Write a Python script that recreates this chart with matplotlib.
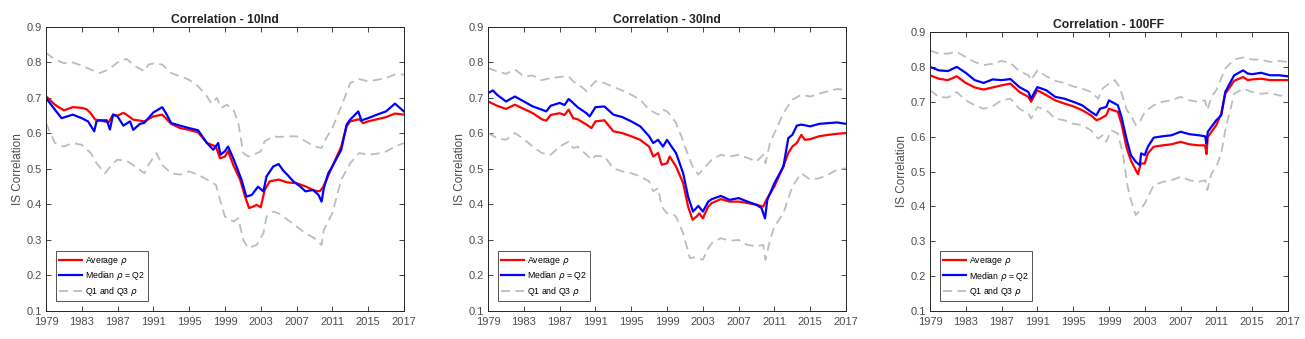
import matplotlib
matplotlib.use("Agg")
import matplotlib.pyplot as plt

plt.rcParams['font.family'] = ['Liberation Sans', 'DejaVu Sans']

# ======================
# Data (x in axis-year units, axis spans 1979..2019)
tick_pos = [1979, 1983, 1987, 1991, 1995, 1999, 2003, 2007, 2011, 2015, 2019]
tick_labels = ['1979', '1983', '1987', '1991', '1995', '1999', '2003', '2007', '2011', '2015', '2017']

titles = ['Correlation - 10Ind', 'Correlation - 30Ind', 'Correlation - 100FF']

# --- 10Ind
ind10_avg_x = [1979.0, 1980.0, 1981.0, 1982.0, 1983.0, 1983.55, 1984.0, 1984.5, 1985.0, 1986.0, 1986.5, 1987.0,
               1987.65, 1988.0, 1988.75, 1989.0, 1990.0, 1991.0, 1992.0, 1993.0, 1994.0, 1995.0, 1996.0, 1997.0,
               1998.0, 1998.45, 1999.0, 1999.35, 2000.0, 2000.7, 2001.25, 2001.7, 2002.15, 2002.55, 2003.0,
               2003.45, 2004.0, 2005.0, 2006.0, 2007.0, 2008.0, 2009.0, 2009.6, 2010.0, 2011.0, 2012.0, 2012.6,
               2013.0, 2014.0, 2014.45, 2015.0, 2016.0, 2017.0, 2018.0, 2019.0]
ind10_avg = [0.705, 0.681, 0.665, 0.674, 0.672, 0.668, 0.657, 0.639, 0.637, 0.631, 0.653, 0.650,
             0.658, 0.653, 0.639, 0.638, 0.634, 0.648, 0.653, 0.627, 0.615, 0.610, 0.603, 0.573,
             0.563, 0.530, 0.535, 0.550, 0.507, 0.470, 0.422, 0.390, 0.394, 0.399, 0.392,
             0.441, 0.465, 0.470, 0.462, 0.460, 0.451, 0.439, 0.437, 0.450, 0.507, 0.563, 0.620,
             0.634, 0.640, 0.629, 0.634, 0.640, 0.646, 0.656, 0.653]

ind10_med_x = [1979.0, 1980.0, 1980.75, 1982.0, 1983.0, 1983.7, 1984.4, 1984.65, 1985.0, 1985.8, 1986.15, 1986.5,
               1987.0, 1987.65, 1988.4, 1988.75, 1989.5, 1990.0, 1991.0, 1992.0, 1992.5, 1993.0, 1994.0, 1995.0,
               1996.0, 1997.0, 1997.7, 1998.25, 1998.5, 1999.0, 1999.35, 2000.0, 2000.85, 2001.4, 2002.0, 2002.7,
               2003.3, 2003.65, 2004.4, 2005.0, 2005.5, 2006.0, 2006.65, 2007.4, 2008.0, 2008.85, 2009.45, 2009.8,
               2010.05, 2010.55, 2011.0, 2012.0, 2012.6, 2013.0, 2013.9, 2014.25, 2015.0, 2016.0, 2017.0, 2018.0,
               2019.0]
ind10_med = [0.700, 0.667, 0.643, 0.653, 0.643, 0.634, 0.606, 0.634, 0.637, 0.637, 0.611, 0.653,
             0.648, 0.622, 0.634, 0.610, 0.627, 0.630, 0.659, 0.674, 0.653, 0.629, 0.622, 0.615,
             0.609, 0.573, 0.554, 0.573, 0.540, 0.550, 0.563, 0.526, 0.470, 0.422, 0.427, 0.450,
             0.437, 0.479, 0.507, 0.514, 0.496, 0.483, 0.465, 0.451, 0.437, 0.441, 0.427, 0.408,
             0.446, 0.488, 0.507, 0.554, 0.625, 0.639, 0.662, 0.637, 0.643, 0.653, 0.662, 0.684,
             0.662]

ind10_q3_x = [1979.0, 1980.0, 1981.0, 1982.0, 1983.0, 1984.0, 1985.0, 1986.0, 1987.0, 1988.0, 1989.0, 1990.0,
              1990.45, 1991.0, 1992.0, 1993.0, 1994.0, 1995.0, 1996.0, 1997.0, 1997.5, 1998.1, 1998.6, 1999.2,
              1999.95, 2000.5, 2001.05, 2001.6, 2002.15, 2003.0, 2003.45, 2004.4, 2005.0, 2006.0, 2007.0, 2008.0,
              2009.0, 2009.8, 2010.2, 2011.0, 2012.0, 2013.0, 2014.0, 2015.0, 2016.0, 2017.0, 2018.0, 2019.0]
ind10_q3 = [0.827, 0.808, 0.798, 0.800, 0.791, 0.780, 0.770, 0.780, 0.800, 0.810, 0.789, 0.775,
            0.794, 0.797, 0.794, 0.770, 0.761, 0.751, 0.733, 0.704, 0.684, 0.700, 0.672, 0.681,
            0.667, 0.629, 0.545, 0.535, 0.540, 0.549, 0.578, 0.592, 0.590, 0.592, 0.592, 0.578,
            0.563, 0.559, 0.582, 0.615, 0.676, 0.742, 0.753, 0.747, 0.751, 0.756, 0.766, 0.766]

ind10_q1_x = [1979.0, 1980.0, 1981.0, 1982.0, 1983.0, 1984.0, 1984.65, 1985.6, 1986.5, 1987.0, 1988.0, 1989.0,
              1990.0, 1990.45, 1991.35, 1992.0, 1993.0, 1994.0, 1995.0, 1996.0, 1997.0, 1998.0, 1998.45, 1999.0,
              1999.95, 2000.5, 2001.05, 2001.6, 2002.55, 2003.3, 2003.65, 2004.4, 2005.0, 2006.0, 2007.0, 2008.0,
              2009.0, 2009.8, 2010.05, 2011.0, 2012.0, 2013.0, 2014.0, 2015.0, 2016.0, 2017.0, 2018.0, 2019.0]
ind10_q1 = [0.629, 0.573, 0.563, 0.573, 0.568, 0.545, 0.516, 0.488, 0.516, 0.526, 0.523, 0.507,
            0.488, 0.511, 0.545, 0.511, 0.488, 0.484, 0.493, 0.484, 0.470, 0.455, 0.413, 0.366,
            0.352, 0.361, 0.300, 0.277, 0.286, 0.319, 0.366, 0.380, 0.375, 0.357, 0.338, 0.319,
            0.305, 0.286, 0.328, 0.375, 0.470, 0.516, 0.545, 0.540, 0.543, 0.549, 0.563, 0.573]

# --- 30Ind
ind30_avg_x = [1979.0, 1980.0, 1981.0, 1982.0, 1983.0, 1984.0, 1985.0, 1985.5, 1986.0, 1987.0, 1987.55, 1988.0,
               1988.5, 1989.0, 1990.0, 1990.55, 1991.0, 1992.0, 1993.0, 1994.0, 1995.0, 1996.0, 1997.0, 1997.45,
               1998.0, 1998.4, 1999.0, 1999.3, 2000.0, 2000.8, 2001.35, 2001.85, 2002.3, 2002.6, 2003.0, 2003.6,
               2004.0, 2005.0, 2006.0, 2007.0, 2008.0, 2009.0, 2009.75, 2010.1, 2011.0, 2012.0, 2012.55, 2013.0,
               2013.5, 2014.0, 2014.4, 2015.0, 2016.0, 2017.0, 2018.0, 2019.0]
ind30_avg = [0.690, 0.678, 0.669, 0.681, 0.669, 0.657, 0.640, 0.636, 0.652, 0.657, 0.652, 0.667,
             0.643, 0.640, 0.625, 0.615, 0.634, 0.637, 0.606, 0.601, 0.592, 0.582, 0.563, 0.535,
             0.545, 0.512, 0.516, 0.535, 0.507, 0.460, 0.394, 0.357, 0.366, 0.375, 0.361, 0.394,
             0.404, 0.415, 0.408, 0.408, 0.404, 0.399, 0.394, 0.413, 0.451, 0.507, 0.545, 0.563,
             0.573, 0.596, 0.582, 0.584, 0.592, 0.596, 0.599, 0.601]

ind30_med_x = [1979.0, 1979.55, 1980.0, 1981.0, 1982.0, 1983.0, 1984.0, 1985.0, 1985.5, 1986.0, 1987.0, 1987.55,
               1988.0, 1988.5, 1989.0, 1990.0, 1990.35, 1991.0, 1992.0, 1993.0, 1994.0, 1995.0, 1996.0, 1997.0,
               1997.45, 1998.0, 1998.55, 1999.0, 1999.5, 2000.0, 2000.8, 2001.35, 2001.9, 2002.5, 2003.0, 2003.6,
               2004.0, 2005.0, 2006.0, 2007.0, 2008.0, 2009.0, 2009.55, 2009.95, 2010.2, 2011.0, 2012.0, 2012.55,
               2013.0, 2013.5, 2014.0, 2015.0, 2016.0, 2017.0, 2018.0, 2019.0]
ind30_med = [0.714, 0.721, 0.709, 0.690, 0.704, 0.690, 0.676, 0.667, 0.662, 0.678, 0.686, 0.680,
             0.697, 0.686, 0.674, 0.657, 0.648, 0.674, 0.676, 0.653, 0.646, 0.634, 0.620, 0.592,
             0.573, 0.582, 0.563, 0.582, 0.563, 0.545, 0.488, 0.422, 0.380, 0.396, 0.380, 0.408,
             0.415, 0.424, 0.413, 0.418, 0.408, 0.399, 0.390, 0.361, 0.413, 0.460, 0.507, 0.587,
             0.596, 0.622, 0.625, 0.620, 0.627, 0.629, 0.631, 0.627]

ind30_q3_x = [1979.0, 1980.0, 1981.0, 1982.0, 1983.0, 1984.0, 1985.0, 1986.0, 1987.0, 1988.0, 1988.5, 1989.45,
              1990.0, 1991.0, 1992.0, 1993.0, 1994.0, 1995.0, 1996.0, 1997.0, 1998.0, 1998.55, 1999.0, 1999.5,
              2000.0, 2000.6, 2001.2, 2001.85, 2002.5, 2003.0, 2004.0, 2005.0, 2006.0, 2007.0, 2008.0, 2009.0,
              2009.75, 2010.0, 2010.5, 2011.0, 2012.0, 2013.0, 2014.0, 2015.0, 2016.0, 2017.0, 2018.0, 2019.0]
ind30_q3 = [0.784, 0.775, 0.768, 0.780, 0.761, 0.763, 0.750, 0.756, 0.759, 0.761, 0.747, 0.731,
            0.719, 0.747, 0.742, 0.731, 0.721, 0.709, 0.695, 0.667, 0.653, 0.667, 0.662, 0.648,
            0.629, 0.592, 0.549, 0.507, 0.484, 0.498, 0.526, 0.540, 0.535, 0.540, 0.531, 0.521,
            0.540, 0.516, 0.573, 0.601, 0.657, 0.695, 0.709, 0.704, 0.712, 0.719, 0.725, 0.723]

ind30_q1_x = [1979.0, 1980.0, 1981.0, 1982.0, 1983.0, 1984.0, 1985.0, 1986.0, 1987.0, 1988.0, 1988.5, 1989.0,
              1990.0, 1990.55, 1991.0, 1992.0, 1993.0, 1994.0, 1995.0, 1996.0, 1997.0, 1997.45, 1998.0, 1998.4,
              1999.0, 1999.5, 2000.0, 2000.8, 2001.55, 2002.3, 2003.0, 2003.6, 2004.0, 2005.0, 2006.0, 2007.0,
              2008.0, 2009.0, 2009.75, 2010.0, 2010.5, 2011.0, 2012.0, 2013.0, 2014.0, 2015.0, 2016.0, 2017.0,
              2018.0, 2019.0]
ind30_q1 = [0.601, 0.587, 0.582, 0.601, 0.584, 0.563, 0.545, 0.540, 0.563, 0.577, 0.559, 0.563,
            0.540, 0.526, 0.537, 0.535, 0.502, 0.493, 0.488, 0.479, 0.465, 0.437, 0.446, 0.394,
            0.375, 0.375, 0.366, 0.319, 0.249, 0.252, 0.244, 0.277, 0.291, 0.305, 0.298, 0.300,
            0.286, 0.282, 0.286, 0.244, 0.300, 0.338, 0.375, 0.451, 0.488, 0.470, 0.474, 0.484,
            0.498, 0.502]

# --- 100FF
ff100_avg_x = [1979.0, 1980.0, 1981.0, 1982.0, 1983.0, 1984.0, 1985.0, 1986.0, 1987.0, 1988.0, 1989.0, 1990.0,
               1990.3, 1991.0, 1992.0, 1993.0, 1994.0, 1995.0, 1996.0, 1997.0, 1997.6, 1998.0, 1998.7, 1999.0,
               2000.0, 2000.4, 2001.0, 2001.45, 2002.0, 2002.25, 2002.55, 2003.0, 2003.35, 2004.0, 2005.0, 2006.0,
               2007.0, 2008.0, 2009.0, 2009.75, 2009.9, 2010.05, 2011.0, 2011.55, 2012.0, 2013.0, 2014.0, 2014.5,
               2015.0, 2016.0, 2017.0, 2018.0, 2019.0]
ff100_avg = [0.776, 0.766, 0.762, 0.773, 0.754, 0.741, 0.735, 0.741, 0.747, 0.752, 0.728, 0.714,
             0.700, 0.733, 0.719, 0.704, 0.695, 0.687, 0.676, 0.661, 0.647, 0.651, 0.661, 0.680,
             0.671, 0.637, 0.566, 0.532, 0.504, 0.492, 0.523, 0.523, 0.552, 0.571, 0.575, 0.578,
             0.585, 0.578, 0.575, 0.575, 0.550, 0.599, 0.633, 0.666, 0.723, 0.760, 0.771, 0.762,
             0.764, 0.766, 0.762, 0.762, 0.762]

ff100_med_x = [1979.0, 1980.0, 1981.0, 1982.0, 1983.0, 1984.0, 1985.0, 1986.0, 1987.0, 1988.0, 1989.0, 1990.0,
               1990.3, 1991.0, 1992.0, 1993.0, 1994.0, 1995.0, 1996.0, 1997.0, 1997.6, 1998.0, 1998.7, 1999.0,
               2000.0, 2000.4, 2001.0, 2001.45, 2002.0, 2002.45, 2002.6, 2003.0, 2003.35, 2004.0, 2005.0, 2006.0,
               2007.0, 2008.0, 2009.0, 2009.75, 2009.9, 2010.05, 2011.0, 2011.55, 2012.0, 2013.0, 2014.0, 2014.5,
               2015.0, 2016.0, 2017.0, 2018.0, 2019.0]
ff100_med = [0.800, 0.790, 0.788, 0.800, 0.783, 0.762, 0.754, 0.764, 0.762, 0.765, 0.742, 0.728,
             0.709, 0.742, 0.733, 0.714, 0.709, 0.700, 0.690, 0.671, 0.661, 0.680, 0.685, 0.704,
             0.690, 0.657, 0.590, 0.547, 0.528, 0.518, 0.552, 0.547, 0.571, 0.597, 0.601, 0.604,
             0.614, 0.607, 0.604, 0.601, 0.580, 0.614, 0.647, 0.661, 0.728, 0.776, 0.790, 0.781,
             0.779, 0.783, 0.776, 0.776, 0.773]

ff100_q3_x = [1979.0, 1980.0, 1981.0, 1982.0, 1983.0, 1984.0, 1985.0, 1986.0, 1987.0, 1988.0, 1989.0, 1990.0,
              1990.3, 1991.0, 1992.0, 1993.0, 1994.0, 1995.0, 1996.0, 1997.0, 1997.8, 1998.3, 1999.0, 1999.65,
              2000.2, 2001.0, 2001.45, 2002.0, 2002.55, 2003.0, 2004.0, 2005.0, 2006.0, 2007.0, 2008.0, 2009.0,
              2009.75, 2010.0, 2010.45, 2011.0, 2012.0, 2013.0, 2014.0, 2015.0, 2016.0, 2017.0, 2018.0, 2019.0]
ff100_q3 = [0.847, 0.838, 0.838, 0.843, 0.828, 0.814, 0.805, 0.809, 0.817, 0.811, 0.788, 0.776,
            0.762, 0.790, 0.773, 0.760, 0.754, 0.744, 0.738, 0.728, 0.709, 0.738, 0.752, 0.762,
            0.742, 0.676, 0.661, 0.633, 0.647, 0.671, 0.690, 0.700, 0.704, 0.714, 0.704, 0.700,
            0.704, 0.676, 0.714, 0.733, 0.795, 0.821, 0.827, 0.821, 0.821, 0.814, 0.817, 0.814]

ff100_q1_x = [1979.0, 1980.0, 1981.0, 1982.0, 1983.0, 1984.0, 1985.0, 1986.0, 1987.0, 1988.0, 1989.0, 1990.0,
              1990.3, 1991.0, 1992.0, 1993.0, 1994.0, 1995.0, 1996.0, 1997.0, 1997.8, 1998.3, 1998.7, 1999.25,
              2000.0, 2000.55, 2001.1, 2001.45, 2002.0, 2002.45, 2003.0, 2004.0, 2005.0, 2006.0, 2007.0, 2008.0,
              2009.0, 2009.75, 2010.0, 2010.45, 2011.0, 2011.55, 2012.0, 2013.0, 2014.0, 2015.0, 2016.0, 2017.0,
              2018.0, 2019.0]
ff100_q1 = [0.733, 0.714, 0.712, 0.728, 0.704, 0.690, 0.680, 0.687, 0.704, 0.709, 0.680, 0.666,
            0.652, 0.685, 0.676, 0.652, 0.647, 0.637, 0.633, 0.618, 0.594, 0.604, 0.585, 0.618,
            0.609, 0.552, 0.456, 0.418, 0.375, 0.389, 0.408, 0.461, 0.470, 0.475, 0.485, 0.475,
            0.470, 0.475, 0.447, 0.494, 0.513, 0.552, 0.618, 0.723, 0.738, 0.728, 0.723, 0.725,
            0.718, 0.716]

panels = [
    (ind10_avg_x, ind10_avg, ind10_med_x, ind10_med, ind10_q1_x, ind10_q1, ind10_q3_x, ind10_q3),
    (ind30_avg_x, ind30_avg, ind30_med_x, ind30_med, ind30_q1_x, ind30_q1, ind30_q3_x, ind30_q3),
    (ff100_avg_x, ff100_avg, ff100_med_x, ff100_med, ff100_q1_x, ff100_q1, ff100_q3_x, ff100_q3),
]

# axes boxes in figure fractions [left, bottom, width, height]
boxes = [
    [0.0352, 0.0826, 0.2743, 0.838],
    [0.3740, 0.0826, 0.2743, 0.838],
    [0.7126, 0.0826, 0.2743, 0.823],
]

fig = plt.figure(figsize=(13.05, 3.39), dpi=100)
axis_col = '#262626'
text_col = '#4d4d4d'

for i, (ax_x, avg, md_x, md, q1_x, q1, q3_x, q3) in enumerate(panels):
    ax = fig.add_axes(boxes[i])
    ax.plot(ax_x, avg, color='#ff0000', linewidth=1.6, label=r'Average $\rho$')
    ax.plot(md_x, md, color='#0000ff', linewidth=1.6, label=r'Median $\rho$ = Q2')
    ax.plot(q1_x, q1, color='#bdbdbd', linestyle=(0, (5, 3)), linewidth=1.3, label=r'Q1 and Q3 $\rho$')
    ax.plot(q3_x, q3, color='#bdbdbd', linestyle=(0, (5, 3)), linewidth=1.3)

    ax.set_xlim(1979, 2019)
    ax.set_ylim(0.1, 0.9)
    ax.set_xticks(tick_pos)
    ax.set_xticklabels(tick_labels)
    ax.set_yticks([0.1, 0.2, 0.3, 0.4, 0.5, 0.6, 0.7, 0.8, 0.9])
    ax.set_yticklabels(['0.1', '0.2', '0.3', '0.4', '0.5', '0.6', '0.7', '0.8', '0.9'])
    ax.tick_params(direction='in', top=True, right=True, length=3.5, width=0.6,
                   labelsize=8, colors=axis_col, labelcolor=text_col)
    ax.tick_params(axis='x', pad=4)
    ax.tick_params(axis='y', pad=3)
    for sp in ax.spines.values():
        sp.set_color(axis_col)
        sp.set_linewidth(0.7)

    ax.set_title(titles[i], fontsize=8.7, fontweight='bold', color='#222222', pad=3)
    ax.set_ylabel('IS Correlation', fontsize=8.5, color=text_col, labelpad=2)

    leg = ax.legend(loc='lower left', bbox_to_anchor=(0.028, 0.035), fontsize=6.3, frameon=True,
                    fancybox=False, edgecolor=axis_col, handlelength=2.6, borderpad=0.35,
                    labelspacing=0.3, handletextpad=0.4, borderaxespad=0.0)
    leg.get_frame().set_linewidth(0.7)

fig.savefig('out.png', dpi=100)
